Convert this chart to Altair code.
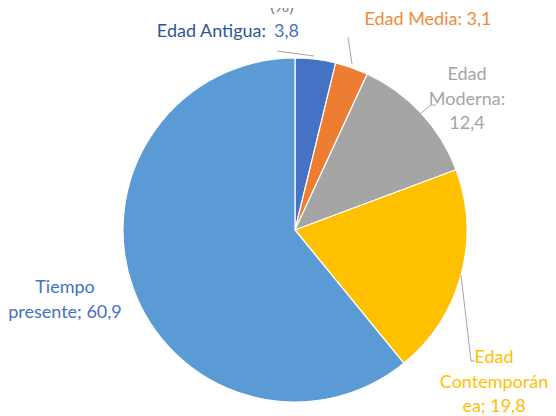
import altair as alt
import pandas as pd

categorias = ["Edad Antigua", "Edad Media", "Edad Moderna", "Edad Contemporánea", "Tiempo presente"]
valores = [3.8, 3.1, 12.4, 19.8, 60.9]
colores = ["#4472C4", "#ED7D31", "#A5A5A5", "#FFC000", "#5B9BD5"]
etiquetas = ["Edad Antigua: 3,8", "Edad Media: 3,1", "Edad\nModerna:\n12,4",
             "Edad\nContemporán\nea; 19,8", "Tiempo\npresente; 60,9"]
titulo = "(%)"

df = pd.DataFrame({
    "categoria": categorias,
    "valor": valores,
    "orden": list(range(len(categorias))),
    "etiqueta": etiquetas,
    "nombre": [c + ":" for c in categorias],
    "numero": [f"{v:.1f}".replace(".", ",") for v in valores],
})

CX, CY, R = 287, 222, 172
FONT = "Lato"
FS = 18

base = alt.Chart(df)

shadow1 = alt.Chart(pd.DataFrame({"k": [1]})).mark_circle(color="#000000", opacity=0.06).encode(
    x=alt.value(CX), y=alt.value(CY), size=alt.value(3.1416 * 176 ** 2))
shadow2 = alt.Chart(pd.DataFrame({"k": [1]})).mark_circle(color="#000000", opacity=0.08).encode(
    x=alt.value(CX), y=alt.value(CY), size=alt.value(3.1416 * 174 ** 2))

pie = base.mark_arc(radius=R, stroke="white", strokeWidth=1.2).encode(
    theta=alt.Theta("valor:Q", stack=True),
    order=alt.Order("orden:Q"),
    color=alt.Color("categoria:N", scale=alt.Scale(domain=categorias, range=colores), legend=None),
    x=alt.value(CX), y=alt.value(CY),
)

def label(cat, x, y, color, align="center", field="etiqueta"):
    return base.transform_filter(alt.datum.categoria == cat).mark_text(
        font=FONT, fontSize=FS, color=color, align=align, baseline="middle",
        lineBreak="\n", lineHeight=24.5,
    ).encode(x=alt.value(x), y=alt.value(y), text=f"{field}:N")

lab_ant1 = label("Edad Antigua", 258, 24, "#2F5597", align="right", field="nombre")
lab_ant2 = label("Edad Antigua", 266, 24, "#4472C4", align="left", field="numero")
lab_med = label("Edad Media", 420, 12, "#F08A3C")
lab_mod = label("Edad Moderna", 459, 67, "#A5A5A5")
lab_con = label("Edad Contemporánea", 486, 350, "#FFC000")
lab_tie = label("Tiempo presente", 57, 280, "#4472C4")

tit = alt.Chart(pd.DataFrame({"t": [titulo]})).mark_text(
    font=FONT, fontSize=FS, color="#7F7F7F", align="center", baseline="alphabetic"
).encode(x=alt.value(274), y=alt.value(4), text="t:N")

segs = [
    (269, 43, 306, 48),
    (340, 29, 344, 56),
    (428, 97, 423, 97), (423, 97, 413, 105),
    (453, 267, 463, 353), (463, 353, 467, 353),
]
rules = []
for (x1, y1, x2, y2) in segs:
    rules.append(alt.Chart(pd.DataFrame({"k": [1]})).mark_rule(color="#A6A6A6", strokeWidth=1).encode(
        x=alt.value(x1), y=alt.value(y1), x2=alt.value(x2), y2=alt.value(y2)))

chart = alt.layer(shadow1, shadow2, pie, *rules, lab_ant1, lab_ant2, lab_med, lab_mod, lab_con, lab_tie, tit).properties(
    width=540, height=408, autosize=alt.AutoSizeParams(type="none"), padding=0,
).configure_view(stroke=None)

chart.save("out.html", embed_options={"renderer": "svg", "actions": False})
